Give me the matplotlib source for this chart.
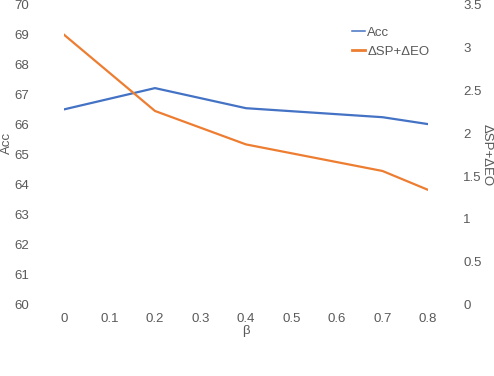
import matplotlib
matplotlib.use("Agg")
import matplotlib.pyplot as plt
from matplotlib.lines import Line2D

beta = [0, 0.2, 0.4, 0.7, 0.8]
acc = [66.51, 67.22, 66.55, 66.25, 66.02]
fair = [3.15, 2.26, 1.87, 1.56, 1.34]
xticks = [0, 0.1, 0.2, 0.3, 0.4, 0.5, 0.6, 0.7, 0.8]
left_ticks = list(range(60, 71))
right_ticks = [0, 0.5, 1, 1.5, 2, 2.5, 3, 3.5]

plt.rcParams['font.family'] = ['Liberation Sans', 'DejaVu Sans']
tc = '#595959'
fs = 9.5
px = 72 / 100  # points per pixel
blue = '#4472C4'
orange = '#ED7D31'

fig = plt.figure(figsize=(4.94, 3.76), dpi=100)
ax = fig.add_axes([64/494, (376-304.7)/376, 364/494, 300/376])
ax2 = ax.twinx()

ax.plot(beta, acc, color=blue, lw=1.6, label='Acc')
ax2.plot(beta, fair, color=orange, lw=1.6, label='ΔSP+ΔEO')

ax.set_xlim(0, 0.8)
ax.set_ylim(60, 70)
ax2.set_ylim(0, 3.5)
ax.set_xticks(xticks)
ax.set_xticklabels([f"{v:g}" for v in xticks])
ax.set_yticks(left_ticks)
ax2.set_yticks(right_ticks)
ax2.set_yticklabels([f"{v:g}" for v in right_ticks])

for a in (ax, ax2):
    for s in a.spines.values():
        s.set_visible(False)
    a.tick_params(length=0, colors=tc, labelsize=fs)

ax.tick_params(axis='y', pad=35 * px)
ax.tick_params(axis='x', pad=8 * px)
ax2.tick_params(axis='y', pad=35 * px)

ax.set_xlabel('β', color=tc, fontsize=fs, va='center')
ax.xaxis.set_label_coords(0.5, -26.5/300)
ax.set_ylabel('Acc', color=tc, fontsize=fs, va='center')
ax.yaxis.set_label_coords(-57/364, 0.54)
ax2.set_ylabel('ΔSP+ΔEO', color=tc, fontsize=fs, rotation=-90, va='center')
ax2.yaxis.set_label_coords(1 + 59/364, 0.5)

handles = [Line2D([], [], color=blue, lw=1.1), Line2D([], [], color=orange, lw=2.0)]
leg = ax.legend(handles, ['Acc', 'ΔSP+ΔEO'], loc='upper left',
                bbox_to_anchor=(288/364, 0.928), frameon=False, fontsize=fs,
                handlelength=1.0, handletextpad=0.15, labelspacing=0.55,
                borderaxespad=0, borderpad=0)
for t in leg.get_texts():
    t.set_color(tc)

fig.savefig('out.png', dpi=100)
